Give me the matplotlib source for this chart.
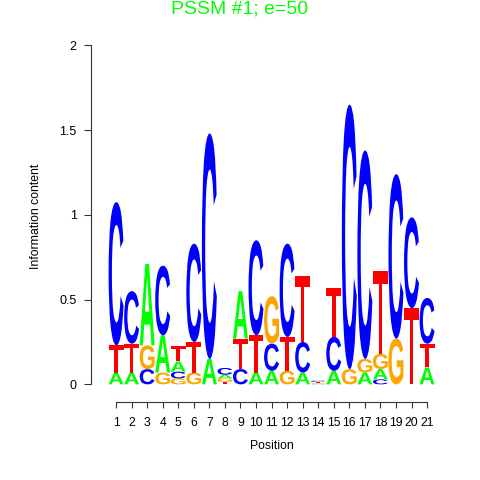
import numpy as np
import matplotlib
matplotlib.use("Agg")
import matplotlib.pyplot as plt
from matplotlib.textpath import TextPath
from matplotlib.patches import PathPatch
from matplotlib.font_manager import FontProperties
import matplotlib.transforms as mtransforms

# information content per base (bits), positions 1..21
positions = list(range(1, 22))
bits_A = [0.07, 0.07, 0.48, 0.22, 0.06, 0.00, 0.15, 0.022, 0.28, 0.07, 0.08,
          0.00, 0.07, 0.004, 0.08, 0.00, 0.07, 0.06, 0.00, 0.00, 0.10]
bits_C = [0.845, 0.31, 0.09, 0.41, 0.04, 0.58, 1.33, 0.04, 0.09, 0.56, 0.16,
          0.55, 0.18, 0.007, 0.20, 1.56, 1.23, 0.03, 0.97, 0.535, 0.27]
bits_G = [0.00, 0.00, 0.14, 0.07, 0.035, 0.07, 0.00, 0.02, 0.00, 0.00, 0.28,
          0.08, 0.00, 0.005, 0.00, 0.09, 0.08, 0.09, 0.27, 0.00, 0.00]
bits_T = [0.16, 0.17, 0.00, 0.00, 0.09, 0.18, 0.00, 0.015, 0.18, 0.22, 0.00,
          0.20, 0.39, 0.006, 0.29, 0.00, 0.00, 0.49, 0.00, 0.45, 0.14]

colors = {"A": "#00FF00", "C": "#0000FF", "G": "#FFA500", "T": "#FF0000"}
fp = FontProperties(family="Liberation Sans", weight="bold")


def draw_letter(ax, ch, x, y, w, h, color):
    tp = TextPath((0, 0), ch, size=1, prop=fp)
    bb = tp.get_extents()
    tr = (mtransforms.Affine2D()
          .translate(-bb.x0, -bb.y0)
          .scale(w / bb.width, h / bb.height)
          .translate(x - w / 2, y))
    ax.add_patch(PathPatch(tr.transform_path(tp), fc=color, ec="none", lw=0))


fig = plt.figure(figsize=(4.8, 4.8), dpi=100)
ax = fig.add_axes([90.7 / 480, 78 / 480, 361.7 / 480, 371.9 / 480])

for i, p in enumerate(positions):
    col = {"A": bits_A[i], "C": bits_C[i], "G": bits_G[i], "T": bits_T[i]}
    y0 = 0.0
    for ch, h in sorted(col.items(), key=lambda kv: kv[1]):
        if h <= 0:
            continue
        draw_letter(ax, ch, p, y0, 0.96, h, colors[ch])
        y0 += h

ax.set_xlim(-0.63, 22.63)
ax.set_ylim(-0.104, 2.09)
for s in ["top", "right"]:
    ax.spines[s].set_visible(False)
ax.spines["left"].set_bounds(0, 2)
ax.spines["bottom"].set_bounds(1, 21)
for s in ["left", "bottom"]:
    ax.spines[s].set_color("#333333")
    ax.spines[s].set_linewidth(0.8)

ax.set_xticks(positions)
ax.set_yticks([0, 0.5, 1, 1.5, 2])
ax.set_yticklabels(["0", "0.5", "1", "1.5", "2"])
ax.tick_params(axis="x", length=4.5, width=0.8, color="#333333", labelsize=8.8, pad=6)
ax.tick_params(axis="y", length=5, width=0.8, color="#333333", labelsize=9, pad=5)
for lab in ax.get_xticklabels() + ax.get_yticklabels():
    lab.set_family("Liberation Sans")

ax.set_xlabel("Position", fontsize=8.8, family="Liberation Sans", labelpad=8)
ax.set_ylabel("Information content", fontsize=8.8, family="Liberation Sans", labelpad=13)
fig.text(0.5, 1 - 9 / 480, "PSSM #1; e=50", ha="center", va="center",
         fontsize=14, color="#00FF00", family="Liberation Sans")

fig.savefig("out.png", dpi=100)
